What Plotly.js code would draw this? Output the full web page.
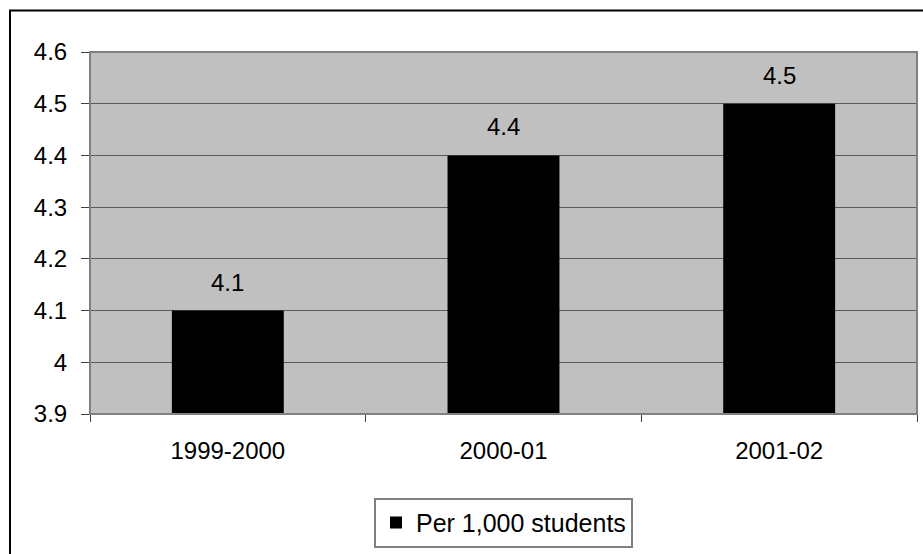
<!DOCTYPE html>
<html>
<head>
<meta charset="utf-8">
<script src="https://cdn.plot.ly/plotly-3.0.1.min.js"></script>
<style>html,body{margin:0;padding:0;background:#fff;}#chart{width:923px;height:554px;}</style>
</head>
<body>
<div id="chart"></div>
<script>
const categories = ["1999-2000", "2000-01", "2001-02"];
const values = [4.1, 4.4, 4.5];
const seriesName = "Per 1,000 students";
const yTickVals = [3.9, 4.0, 4.1, 4.2, 4.3, 4.4, 4.5, 4.6];
const yTickText = ["3.9", "4", "4.1", "4.2", "4.3", "4.4", "4.5", "4.6"];

const W = 923, H = 554;
const L = 90, R = 917, T = 52, B = 419;
const pw = R - L, ph = B - T;
const px = v => (v - L) / pw;
const py = v => (B - v) / ph;

const FONT = "Liberation Sans, Arial, sans-serif";
const FS = 24;

const trace = {
  type: "bar",
  x: categories,
  y: values,
  name: seriesName,
  marker: {color: "#000000", line: {width: 0}},
  showlegend: true,
  hoverinfo: "skip"
};

const annotations = categories.map((c, i) => ({
  x: c, y: values[i], xref: "x", yref: "y",
  text: values[i].toFixed(1), showarrow: false,
  yanchor: "bottom", yshift: 13,
  font: {family: FONT, size: FS, color: "#000"}
}));

const layout = {
  width: W, height: H,
  margin: {l: L, r: W - R, t: T, b: H - B, pad: 0},
  paper_bgcolor: "#ffffff",
  plot_bgcolor: "#c0c0c0",
  font: {family: FONT, size: FS, color: "#000"},
  bargap: 0.594,
  showlegend: true,
  legend: {
    orientation: "h", x: 0.5, xanchor: "center", xref: "paper",
    y: py(504), yanchor: "top", yref: "paper",
    bgcolor: "#ffffff", bordercolor: "#808080", borderwidth: 2,
    font: {family: FONT, size: 25, color: "#000"},
    itemwidth: 30
  },
  xaxis: {
    type: "category",
    tickson: "boundaries",
    ticks: "outside", ticklen: 7, tickcolor: "#404040", tickwidth: 1,
    showline: true, linecolor: "#404040", linewidth: 1, mirror: false,
    showgrid: false, zeroline: false,
    ticklabelstandoff: 15,
    tickfont: {family: FONT, size: FS, color: "#000"},
    fixedrange: true
  },
  yaxis: {
    range: [3.9, 4.6],
    tickvals: yTickVals, ticktext: yTickText,
    ticks: "outside", ticklen: 8, tickcolor: "#404040", tickwidth: 1,
    showline: true, linecolor: "#404040", linewidth: 1,
    showgrid: true, gridcolor: "#5a5a5a", gridwidth: 1,
    zeroline: false,
    ticklabelstandoff: 9,
    tickfont: {family: FONT, size: FS, color: "#000"},
    fixedrange: true
  },
  annotations: annotations,
  shapes: [
    {type: "rect", xref: "paper", yref: "paper", layer: "above",
     x0: 0, x1: 1, y0: 0, y1: 1,
     line: {color: "#808080", width: 2}, fillcolor: "rgba(0,0,0,0)"},
    {type: "rect", xref: "paper", yref: "paper", layer: "above",
     x0: px(10), x1: px(930), y0: py(10), y1: py(570),
     line: {color: "#000000", width: 2}, fillcolor: "rgba(0,0,0,0)"}
  ]
};

Plotly.newPlot("chart", [trace], layout, {displayModeBar: false, staticPlot: true});
</script>
</body>
</html>
